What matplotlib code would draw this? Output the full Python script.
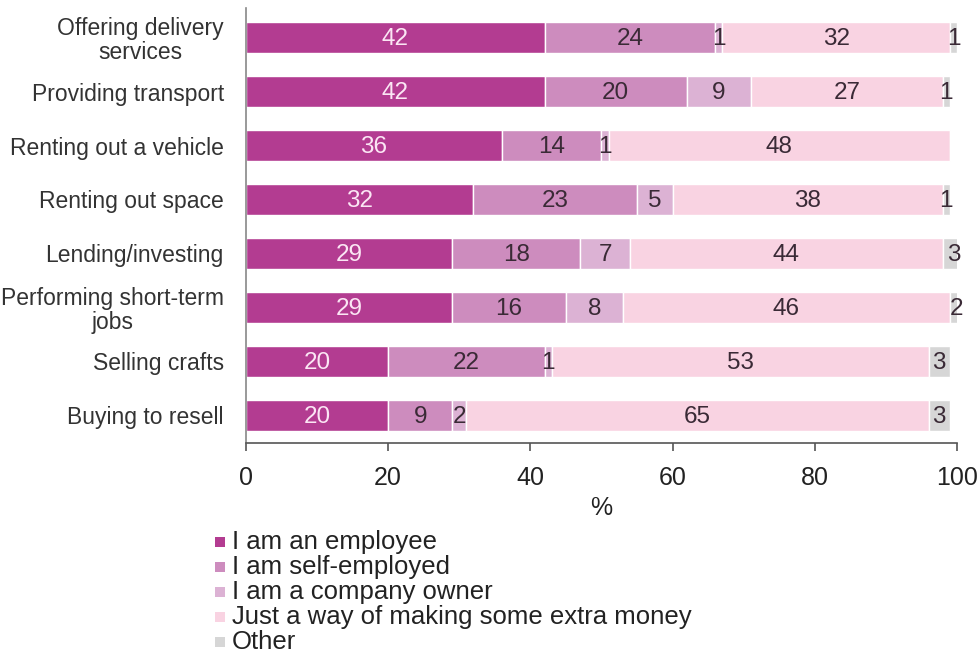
import numpy as np
import matplotlib.pyplot as plt
from matplotlib.patches import Rectangle

plt.rcParams['font.family'] = ['Liberation Sans', 'DejaVu Sans']

# activities, top to bottom
categories = ["Offering delivery\nservices", "Providing transport",
              "Renting out a vehicle", "Renting out space", "Lending/investing",
              "Performing short-term\njobs", "Selling crafts", "Buying to resell"]

series_names = ["I am an employee", "I am self-employed", "I am a company owner",
                "Just a way of making some extra money", "Other"]

employee = [42, 42, 36, 32, 29, 29, 20, 20]
self_employed = [24, 20, 14, 23, 18, 16, 22, 9]
company_owner = [1, 9, 1, 5, 7, 8, 1, 2]
extra_money = [32, 27, 48, 38, 44, 46, 53, 65]
other = [1, 1, 0, 1, 3, 2, 3, 3]

colors = ["#b33c91", "#cd8cbe", "#dcb2d4", "#f9d3e2", "#d6d6d6"]
label_colors = ["#fbe6f4", "#3a2a36", "#3a2a36", "#3a2a36", "#3a2a36"]

data = [employee, self_employed, company_owner, extra_money, other]

fig = plt.figure(figsize=(9.8, 6.58), dpi=100)
ax = fig.add_axes([0.251, 0.327, 0.7255, 0.661])

y = np.arange(len(categories))
left = np.zeros(len(categories))
for vals, col, tcol in zip(data, colors, label_colors):
    vals = np.array(vals, dtype=float)
    ax.barh(y, vals, left=left, height=0.57, color=col,
            edgecolor="white", linewidth=1)
    for yi, l, v in zip(y, left, vals):
        if v > 0:
            ax.text(l + v / 2, yi + 0.03, f"{int(v)}", ha="center", va="center",
                    fontsize=17.5, color=tcol)
    left += vals

ax.set_xlim(0, 100)
ax.set_ylim(7.51, -0.55)
ax.set_yticks(y)
ax.set_yticklabels(categories, fontsize=16.5, color="#333333",
                   multialignment="center", linespacing=1.05)
ax.tick_params(axis="y", length=0, pad=16)
ax.set_xticks([0, 20, 40, 60, 80, 100])
ax.tick_params(axis="x", labelsize=18, length=6, width=1.2, color="#555555",
               pad=11, labelcolor="#222222")
ax.set_xlabel("%", fontsize=18, color="#222222", labelpad=4)

for side in ["top", "right"]:
    ax.spines[side].set_visible(False)
ax.spines["left"].set_color("#888888")
ax.spines["left"].set_linewidth(1.2)
ax.spines["bottom"].set_color("#555555")
ax.spines["bottom"].set_linewidth(1.2)

# legend, one row per series
W, H = 980, 658
for i, (name, col) in enumerate(zip(series_names, colors)):
    yc = 542 + i * 25
    fig.add_artist(Rectangle((215 / W, 1 - (yc + 5) / H), 10 / W, 10 / H,
                             transform=fig.transFigure, color=col, lw=0))
    fig.text(232 / W, 1 - yc / H, name, fontsize=18.5, color="#222222",
             ha="left", va="center")

fig.savefig("out.png", dpi=100)
